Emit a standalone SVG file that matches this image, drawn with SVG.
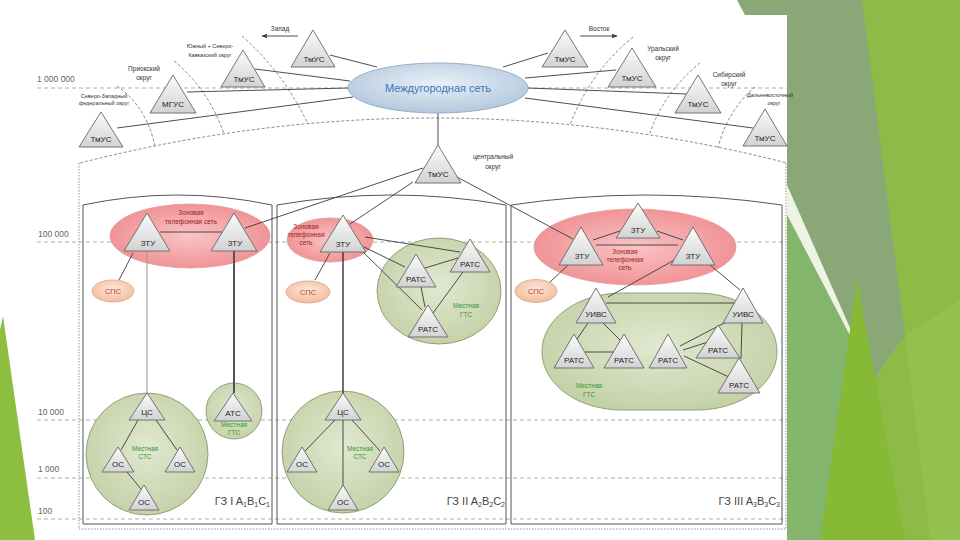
<svg xmlns="http://www.w3.org/2000/svg" width="960" height="540" viewBox="0 0 960 540">
<defs>
<linearGradient id="triG" x1="0" y1="0" x2="0" y2="1"><stop offset="0" stop-color="#fcfcfc"/><stop offset="1" stop-color="#d2d2d2"/></linearGradient>
<radialGradient id="blueG" cx="0.5" cy="0.4" r="0.6"><stop offset="0" stop-color="#e9f0f7"/><stop offset="1" stop-color="#b3c8dd"/></radialGradient>
<radialGradient id="redG" cx="0.5" cy="0.5" r="0.55"><stop offset="0" stop-color="#f9c4c5"/><stop offset="1" stop-color="#ef8f92"/></radialGradient>
<radialGradient id="grnG" cx="0.5" cy="0.45" r="0.6"><stop offset="0" stop-color="#e1e8d0"/><stop offset="1" stop-color="#c2d0a5"/></radialGradient>
<radialGradient id="peachG" cx="0.5" cy="0.4" r="0.6"><stop offset="0" stop-color="#fde7da"/><stop offset="1" stop-color="#f3bc9c"/></radialGradient>
<marker id="arr" viewBox="0 0 10 10" refX="9" refY="5" markerWidth="6" markerHeight="6" orient="auto"><path d="M0,1 L10,5 L0,9 z" fill="#404040"/></marker>
</defs>
<style>
.tri{fill:url(#triG);stroke:#666;stroke-width:0.9}
text{font-family:"Liberation Sans",Arial,sans-serif}
.tl{font-size:8px;fill:#222;text-anchor:middle}
.ln{stroke:#3a3a3a;stroke-width:0.9;fill:none}
.dash{stroke:#6a6a6a;stroke-width:0.8;stroke-dasharray:3 2;fill:none}
.lvl{stroke:#9c9c86;stroke-width:0.8;stroke-dasharray:4 3;fill:none}
.lvt{font-size:8.5px;fill:#666}
.sm{font-size:6.5px;fill:#333;text-anchor:middle}
.xs{font-size:5.5px;fill:#333;text-anchor:middle}
.zone{fill:none;stroke:#555;stroke-width:1}
.red{fill:url(#redG);stroke:#e39a9c;stroke-width:0.8}
.rt{fill:#9b1c1c;font-size:6.5px;text-anchor:middle}
.grn{fill:url(#grnG);stroke:#8c9670;stroke-width:0.9}
.gt{fill:#2c9a2c;font-size:6.5px;text-anchor:middle}
.sps{fill:url(#peachG);stroke:#dca386;stroke-width:0.8}
.spt{fill:#b5462a;font-size:7.5px;text-anchor:middle}
.zl{font-size:11px;fill:#444;text-anchor:end}
</style>
<rect width="960" height="540" fill="#ffffff"/>
<g id="decor">
<polygon points="787,0 960,0 960,540 787,540" fill="#8cbb47"/>
<polygon points="737,0 862,0 905,335 873,380 787,185 787,15 745,15" fill="#8aa877"/>
<polygon points="787,185 873,380 787,215" fill="#eef3e6"/>
<polygon points="787,215 873,380 885,540 787,540" fill="#84b56c"/>
<polygon points="820,540 857,280 905,540" fill="#86b935"/>
<polygon points="905,335 960,300 960,540 930,540" fill="#93c04e"/>
<polygon points="0,330 3,316 35,540 0,540" fill="#8cbf3f"/>
</g>
<g id="levels">
<line class="lvl" x1="37" y1="88" x2="787" y2="88"/>
<line class="lvl" x1="37" y1="242" x2="787" y2="242"/>
<line class="lvl" x1="37" y1="420" x2="787" y2="420"/>
<line class="lvl" x1="37" y1="478" x2="787" y2="478"/>
<line class="lvl" x1="37" y1="519" x2="787" y2="519"/>
<text class="lvt" x="37" y="82">1 000 000</text>
<text class="lvt" x="38" y="237">100 000</text>
<text class="lvt" x="38" y="415">10 000</text>
<text class="lvt" x="38" y="472">1 000</text>
<text class="lvt" x="38" y="514">100</text>
</g>
<g id="frames">
<path class="dash" d="M80,163 Q433,73 787,163"/>
<path d="M79,163 V529 H786 V163" fill="none" stroke="#888" stroke-width="0.9" stroke-dasharray="1.5 1.5"/>
<path class="zone" d="M83,524 V205 Q177,185 272,205 V524 Z"/>
<path class="zone" d="M277,524 V205 Q392,185 506,205 V524 Z"/>
<path class="zone" d="M511,524 V205 Q646,185 782,205 V524 Z"/>
<text class="zl" x="270" y="505">ГЗ I A<tspan font-size="7" dy="2">1</tspan><tspan dy="-2">B</tspan><tspan font-size="7" dy="2">1</tspan><tspan dy="-2">C</tspan><tspan font-size="7" dy="2">1</tspan></text>
<text class="zl" x="505" y="505">ГЗ II A<tspan font-size="7" dy="2">2</tspan><tspan dy="-2">B</tspan><tspan font-size="7" dy="2">2</tspan><tspan dy="-2">C</tspan><tspan font-size="7" dy="2">2</tspan></text>
<text class="zl" x="780" y="505">ГЗ III A<tspan font-size="7" dy="2">3</tspan><tspan dy="-2">B</tspan><tspan font-size="7" dy="2">3</tspan><tspan dy="-2">C</tspan><tspan font-size="7" dy="2">3</tspan></text>
</g>
<g id="areas">
<ellipse id="zone1-net" class="red" cx="190" cy="236" rx="80" ry="32"/>
<ellipse id="zone2-net" class="red" cx="330" cy="240" rx="43" ry="22"/>
<ellipse id="zone3-net" class="red" cx="635" cy="247" rx="101" ry="38"/>
<ellipse id="gts2" class="grn" cx="439" cy="291" rx="62" ry="53"/>
<circle id="gts1" class="grn" cx="234" cy="411" r="28"/>
<circle id="sts1" class="grn" cx="147" cy="454" r="61"/>
<circle id="sts2" class="grn" cx="343" cy="452" r="61"/>
<rect id="gts3" class="grn" x="542" y="293" width="235" height="117" rx="80" ry="58"/>
<text class="rt" x="191" y="215">Зоновая</text>
<text class="rt" x="191" y="224">телефонная сеть</text>
<text class="rt" x="306" y="229">Зоновая</text>
<text class="rt" x="306" y="237">телефонная</text>
<text class="rt" x="306" y="245">сеть</text>
<text class="rt" x="625" y="254">Зоновая</text>
<text class="rt" x="625" y="262">телефонная</text>
<text class="rt" x="625" y="270">сеть</text>
<text class="gt" x="466" y="308">Местная</text>
<text class="gt" x="466" y="317">ГТС</text>
<text class="gt" x="234" y="427">Местная</text>
<text class="gt" x="234" y="435">ГТС</text>
<text class="gt" x="145" y="451">Местная</text>
<text class="gt" x="145" y="459">СТС</text>
<text class="gt" x="360" y="451">Местная</text>
<text class="gt" x="360" y="459">СТС</text>
<text class="gt" x="589" y="388">Местная</text>
<text class="gt" x="589" y="397">ГТС</text>
</g>
<g id="top-labels">
<text class="sm" x="280" y="31">Запад</text>
<text class="sm" x="599" y="31">Восток</text>
<text class="xs" x="210" y="48">Южный + Северо-</text>
<text class="xs" x="210" y="57">Кавказский округ</text>
<text class="sm" x="144" y="71">Приокский</text>
<text class="sm" x="144" y="80">округ</text>
<text class="xs" x="104" y="98">Северо-Западный</text>
<text class="xs" x="104" y="105">федеральный округ</text>
<text class="sm" x="663" y="51">Уральский</text>
<text class="sm" x="663" y="60">округ</text>
<text class="sm" x="729" y="77">Сибирский</text>
<text class="sm" x="729" y="86">округ</text>
<text class="xs" x="770" y="97">Дальневосточный</text>
<text class="xs" x="774" y="105">округ</text>
<text class="sm" x="493" y="159">центральный</text>
<text class="sm" x="493" y="169">округ</text>
</g>
<g id="connectors">
<line class="ln" x1="298" y1="36" x2="262" y2="36" marker-end="url(#arr)"/>
<line class="ln" x1="580" y1="36" x2="617" y2="36" marker-end="url(#arr)"/>
<path class="dash" d="M117,86 Q146,106 155,146"/>
<path class="dash" d="M174,61 Q209,90 224,134"/>
<path class="dash" d="M242,36 Q283,72 308,124"/>
<path class="dash" d="M633,37 Q590,72 570,125"/>
<path class="dash" d="M700,63 Q664,92 650,133"/>
<path class="dash" d="M755,87 Q727,111 718,148"/>
<line class="ln" x1="117" y1="128" x2="353" y2="97"/>
<line class="ln" x1="187" y1="92" x2="348" y2="88"/>
<line class="ln" x1="255" y1="69" x2="350" y2="81"/>
<line class="ln" x1="330" y1="55" x2="377" y2="67"/>
<line class="ln" x1="548" y1="53" x2="503" y2="67"/>
<line class="ln" x1="525" y1="78" x2="616" y2="70"/>
<line class="ln" x1="528" y1="88" x2="687" y2="94"/>
<line class="ln" x1="525" y1="98" x2="753" y2="128"/>
<line class="ln" x1="438" y1="113" x2="438" y2="145"/>
<line class="ln" x1="423" y1="168" x2="245" y2="228"/>
<line class="ln" x1="413" y1="182" x2="350" y2="224"/>
<line class="ln" x1="457" y1="177" x2="573" y2="239"/>
<line class="ln" x1="160" y1="232" x2="222" y2="232"/>
<line class="ln" x1="133" y1="253" x2="119" y2="280"/>
<line x1="147" y1="251" x2="147" y2="393" stroke="#9a9a9a" stroke-width="1"/>
<line x1="234" y1="251" x2="234" y2="393" stroke="#555" stroke-width="2"/>
<line x1="343" y1="252" x2="343" y2="393" stroke="#333" stroke-width="1.4"/>
<line class="ln" x1="343" y1="420" x2="343" y2="485"/>
<line class="ln" x1="138" y1="420" x2="121" y2="450"/>
<line class="ln" x1="156" y1="420" x2="177" y2="450"/>
<line class="ln" x1="127" y1="472" x2="141" y2="489"/>
<line class="ln" x1="335" y1="420" x2="305" y2="451"/>
<line class="ln" x1="352" y1="420" x2="380" y2="451"/>
<line class="ln" x1="330" y1="253" x2="315" y2="280"/>
<line class="ln" x1="365" y1="237" x2="460" y2="252"/>
<line class="ln" x1="364" y1="247" x2="405" y2="267"/>
<line class="ln" x1="363" y1="252" x2="422" y2="310"/>
<line class="ln" x1="425" y1="268" x2="458" y2="258"/>
<line class="ln" x1="421" y1="287" x2="425" y2="307"/>
<line class="ln" x1="463" y1="272" x2="433" y2="313"/>
<line class="ln" x1="593" y1="240" x2="620" y2="231"/>
<line class="ln" x1="657" y1="231" x2="683" y2="240"/>
<line class="ln" x1="596" y1="245" x2="678" y2="245"/>
<line class="ln" x1="568" y1="265" x2="550" y2="282"/>
<line class="ln" x1="678" y1="258" x2="608" y2="297"/>
<line class="ln" x1="710" y1="265" x2="740" y2="290"/>
<line class="ln" x1="606" y1="303" x2="737" y2="303"/>
<line class="ln" x1="588" y1="323" x2="575" y2="342"/>
<line class="ln" x1="603" y1="323" x2="620" y2="340"/>
<line class="ln" x1="585" y1="352" x2="613" y2="352"/>
<line class="ln" x1="680" y1="346" x2="730" y2="320"/>
<line class="ln" x1="683" y1="350" x2="708" y2="342"/>
<line class="ln" x1="684" y1="356" x2="731" y2="378"/>
<line class="ln" x1="742" y1="323" x2="741" y2="359"/>
</g>
<g id="n-mg"><ellipse cx="438" cy="88" rx="90" ry="25" fill="url(#blueG)" stroke="#8fa9c4" stroke-width="0.9"/><text x="438" y="92" font-size="11" fill="#3a78b8" text-anchor="middle">Междугородная сеть</text></g>
<g id="n-sz"><polygon class="tri" points="101,112 79,147 123,147"/><text class="tl" x="101" y="142">ТмУС</text></g>
<g id="n-prio"><polygon class="tri" points="173,75 150,113 196,113"/><text class="tl" x="173" y="107">МГУС</text></g>
<g id="n-south"><polygon class="tri" points="243,50 221,87 265,87"/><text class="tl" x="244" y="82">ТмУС</text></g>
<g id="n-west"><polygon class="tri" points="313,30 291,67 335,67"/><text class="tl" x="314" y="62">ТмУС</text></g>
<g id="n-east"><polygon class="tri" points="565,30 542,67 588,67"/><text class="tl" x="565" y="62">ТмУС</text></g>
<g id="n-ural"><polygon class="tri" points="632,48 608,87 656,87"/><text class="tl" x="632" y="81">ТмУС</text></g>
<g id="n-sib"><polygon class="tri" points="698,75 675,113 721,113"/><text class="tl" x="698" y="107">ТмУС</text></g>
<g id="n-dv"><polygon class="tri" points="765,109 743,146 787,146"/><text class="tl" x="765" y="141">ТмУС</text></g>
<g id="n-center"><polygon class="tri" points="438,145 415,183 461,183"/><text class="tl" x="438" y="177">ТмУС</text></g>
<g id="n-ztu1l"><polygon class="tri" points="147,213 124,251 170,251"/><text class="tl" x="148" y="246">ЗТУ</text></g>
<g id="n-ztu1r"><polygon class="tri" points="234,213 211,251 257,251"/><text class="tl" x="235" y="246">ЗТУ</text></g>
<g id="n-sps1"><ellipse class="sps" cx="113" cy="291" rx="21" ry="11"/><text class="spt" x="113" y="294">СПС</text></g>
<g id="n-cs1"><polygon class="tri" points="147,393 129,420 165,420"/><text class="tl" x="147" y="415">ЦС</text></g>
<g id="n-os1l"><polygon class="tri" points="118,447 102,472 134,472"/><text class="tl" x="118" y="467">ОС</text></g>
<g id="n-os1r"><polygon class="tri" points="180,447 165,472 195,472"/><text class="tl" x="180" y="467">ОС</text></g>
<g id="n-os1b"><polygon class="tri" points="144,485 129,510 159,510"/><text class="tl" x="144" y="505">ОС</text></g>
<g id="n-ats"><polygon class="tri" points="233,393 214,421 252,421"/><text class="tl" x="233" y="416">АТС</text></g>
<g id="n-ztu2"><polygon class="tri" points="343,215 320,252 366,252"/><text class="tl" x="343" y="247">ЗТУ</text></g>
<g id="n-sps2"><ellipse class="sps" cx="308" cy="292" rx="22" ry="11"/><text class="spt" x="308" y="295">СПС</text></g>
<g id="n-ratc21"><polygon class="tri" points="416,254 396,287 436,287"/><text class="tl" x="416" y="282">РАТС</text></g>
<g id="n-ratc22"><polygon class="tri" points="470,239 450,272 490,272"/><text class="tl" x="470" y="267">РАТС</text></g>
<g id="n-ratc23"><polygon class="tri" points="428,305 408,337 448,337"/><text class="tl" x="428" y="332">РАТС</text></g>
<g id="n-cs2"><polygon class="tri" points="343,393 325,420 361,420"/><text class="tl" x="343" y="415">ЦС</text></g>
<g id="n-os2l"><polygon class="tri" points="302,447 287,472 317,472"/><text class="tl" x="302" y="467">ОС</text></g>
<g id="n-os2r"><polygon class="tri" points="384,447 369,472 399,472"/><text class="tl" x="384" y="467">ОС</text></g>
<g id="n-os2b"><polygon class="tri" points="343,485 328,510 358,510"/><text class="tl" x="343" y="505">ОС</text></g>
<g id="n-ztu3t"><polygon class="tri" points="638,203 616,238 660,238"/><text class="tl" x="638" y="233">ЗТУ</text></g>
<g id="n-ztu3l"><polygon class="tri" points="581,227 559,265 603,265"/><text class="tl" x="582" y="259">ЗТУ</text></g>
<g id="n-ztu3r"><polygon class="tri" points="693,227 671,265 715,265"/><text class="tl" x="693" y="259">ЗТУ</text></g>
<g id="n-sps3"><ellipse class="sps" cx="536" cy="291" rx="21" ry="11.5"/><text class="spt" x="536" y="294">СПС</text></g>
<g id="n-uivsl"><polygon class="tri" points="596,288 576,323 616,323"/><text class="tl" x="596" y="317">УИВС</text></g>
<g id="n-uivsr"><polygon class="tri" points="743,288 723,323 763,323"/><text class="tl" x="743" y="317">УИВС</text></g>
<g id="n-ratca"><polygon class="tri" points="574,334 554,368 594,368"/><text class="tl" x="574" y="363">РАТС</text></g>
<g id="n-ratcb"><polygon class="tri" points="624,334 604,368 644,368"/><text class="tl" x="624" y="363">РАТС</text></g>
<g id="n-ratcc"><polygon class="tri" points="668,334 649,368 687,368"/><text class="tl" x="668" y="363">РАТС</text></g>
<g id="n-ratcd"><polygon class="tri" points="718,325 696,358 740,358"/><text class="tl" x="718" y="353">РАТС</text></g>
<g id="n-ratce"><polygon class="tri" points="739,358 718,393 760,393"/><text class="tl" x="739" y="388">РАТС</text></g>
</svg>
